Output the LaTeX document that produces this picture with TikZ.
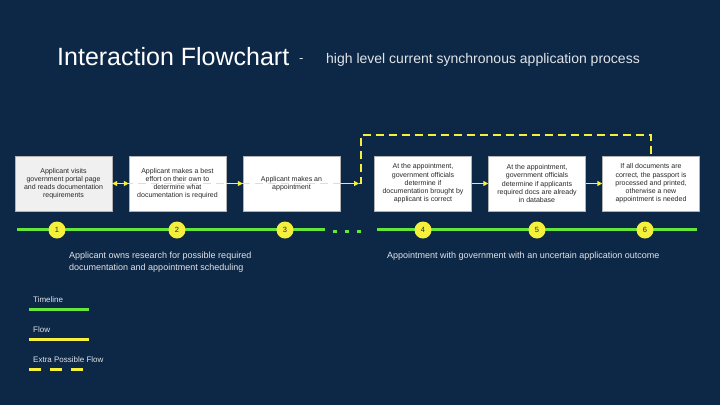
\documentclass[tikz,border=0pt]{standalone}
\usepackage{fontspec}
\setmainfont{Liberation Sans}
\usetikzlibrary{arrows.meta}
\definecolor{bg}{RGB}{13,40,70}
\definecolor{tl}{RGB}{100,230,60}
\definecolor{fl}{RGB}{245,240,60}
\definecolor{boxtxt}{RGB}{40,40,40}
\definecolor{lbl}{RGB}{225,228,232}
\tikzset{
  stepbox/.style={draw=gray!60, fill=white, minimum width=97pt, minimum height=55pt, inner sep=1pt,
    align=center, font=\fontsize{7}{8.2}\selectfont, text=boxtxt},
  num/.style={circle, fill=fl, minimum size=17pt, inner sep=0pt, font=\fontsize{7.5}{8}\selectfont, text=boxtxt},
  tline/.style={tl, line width=3pt},
  flow/.style={fl, line width=1.5pt, -{Triangle[length=5pt,width=5pt]}},
  xflow/.style={fl, line width=1.5pt, dash pattern=on 8pt off 5pt},
  lab/.style={text=lbl, anchor=west, inner sep=0pt},
}
\begin{document}
\begin{tikzpicture}[x=1pt,y=-1pt]
\fill[bg] (0,0) rectangle (720,405);
\useasboundingbox (0,0) rectangle (720,405);
% title
\node[lab, font=\fontsize{25}{28}\selectfont, text=white] (title) at (57,57) {Interaction Flowchart};
\node[lab, font=\fontsize{13}{15}\selectfont] (dash) at (299,61) {-};
\node[lab, font=\fontsize{14}{16}\selectfont] (sub) at (326,60) {high level current synchronous application process};
% boxes
\node[stepbox, fill=gray!12] (b1) at (63.5,183.5) {Applicant visits\\government portal page\\and reads documentation\\requirements};
\node[stepbox] (b2) at (177.5,183.5) {Applicant makes a best\\effort on their own to\\determine what\\documentation is required};
\node[stepbox] (b3) at (291.5,183.5) {Applicant makes an\\appointment};
\node[stepbox] (b4) at (423,183.5) {At the appointment,\\government officials\\determine if\\documentation brought by\\applicant is correct};
\node[stepbox] (b5) at (537,183.5) {At the appointment,\\government officials\\determine if applicants\\required docs are already\\in database};
\node[stepbox] (b6) at (651,183.5) {If all documents are\\correct, the passport is\\processed and printed,\\otherwise a new\\appointment is needed};
% flows
\coordinate (c3) at (359,183.5);
\coordinate (up1) at (361,183.5);
\coordinate (up2) at (361,135);
\coordinate (up3) at (651,135);
\draw[xflow] (b1.east) -- (up1) -- (up2) -- (up3) -- (b6.north);
\draw[flow, {Triangle[length=5pt,width=5pt]}-{Triangle[length=5pt,width=5pt]}] (b1) -- (b2);
\draw[flow] (b2) -- (b3);
\draw[flow] (b3) -- (c3);
\draw[flow] (b4) -- (b5);
\draw[flow] (b5) -- (b6);
% timeline
\coordinate (t1a) at (17,229.5);
\coordinate (t1b) at (325,229.5);
\coordinate (t2a) at (377,229.5);
\coordinate (t2b) at (697,229.5);
\draw[tline] (t1a) -- (t1b);
\draw[tline] (t2a) -- (t2b);
\foreach \x/\n in {335/d1,347/d2,359/d3} \fill[tl] (\x-1.7,229.5) rectangle (\x+1.7,232.9);
\node[num] (n1) at (57,230) {1};
\node[num] (n2) at (177,230) {2};
\node[num] (n3) at (285,230) {3};
\node[num] (n4) at (423,230) {4};
\node[num] (n5) at (537,230) {5};
\node[num] (n6) at (645,230) {6};
% phase labels
\node[lab, font=\fontsize{9}{11.3}\selectfont, align=left, anchor=north west] (p1) at (69,252) {Applicant owns research for possible required\\documentation and appointment scheduling};
\node[lab, font=\fontsize{9}{11.3}\selectfont, anchor=north west] (p2) at (387,252) {Appointment with government with an uncertain application outcome};
% legend
\node[lab, font=\fontsize{8}{9}\selectfont] (lg1) at (33,300) {Timeline};
\coordinate (l1a) at (29,309); \coordinate (l1b) at (89,309);
\draw[tl, line width=3pt] (l1a) -- (l1b);
\node[lab, font=\fontsize{8}{9}\selectfont] (lg2) at (33,330) {Flow};
\coordinate (l2a) at (29,339); \coordinate (l2b) at (89,339);
\draw[fl, line width=3pt] (l2a) -- (l2b);
\node[lab, font=\fontsize{8}{9}\selectfont] (lg3) at (33,360) {Extra Possible Flow};
\coordinate (l3a) at (29,369); \coordinate (l3b) at (89,369);
\draw[fl, line width=3pt, dash pattern=on 12pt off 9pt] (l3a) -- (l3b);
\end{tikzpicture}
\end{document}
